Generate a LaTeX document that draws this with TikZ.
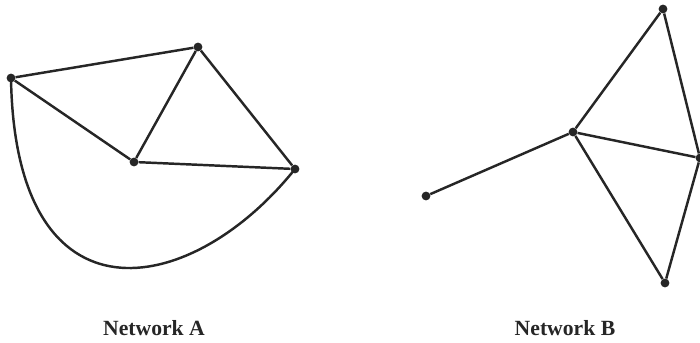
\documentclass[tikz,border=0pt]{standalone}
\usepackage{fontspec}
\setmainfont{Liberation Serif}
\usetikzlibrary{positioning}

\tikzset{
  vtx/.style={circle,fill=black!85,inner sep=0pt,minimum size=7.5pt},
  edge/.style={line width=2.1pt,black!85},
  netlabel/.style={font=\fontsize{18.5}{22}\selectfont\bfseries,text=black!85}
}

\begin{document}
\begin{tikzpicture}[x=0.03cm,y=-0.03cm]
  \useasboundingbox (0,0) rectangle (700,343);
  % Network A
  \node[vtx] (a1) at (11,78) {};
  \node[vtx] (a2) at (198,47) {};
  \node[vtx] (a3) at (134,162) {};
  \node[vtx] (a4) at (295,169) {};
  \draw[edge] (a1) -- (a2) -- (a4) -- (a3) -- (a1);
  \draw[edge] (a2) -- (a3);
  \draw[edge] (a1.center) .. controls (15,330) and (190,300) .. (a4.center);
  \node[netlabel] (labA) at (154,328) {Network A};
  % Network B
  \node[vtx] (b1) at (663,9) {};
  \node[vtx] (b2) at (573,132) {};
  \node[vtx] (b3) at (700,158) {};
  \node[vtx] (b4) at (665,283) {};
  \node[vtx] (b5) at (426,196) {};
  \draw[edge] (b5) -- (b2) -- (b1) -- (b3) -- (b4) -- (b2) -- (b3);
  \node[netlabel] (labB) at (565,328) {Network B};
\end{tikzpicture}
\end{document}
